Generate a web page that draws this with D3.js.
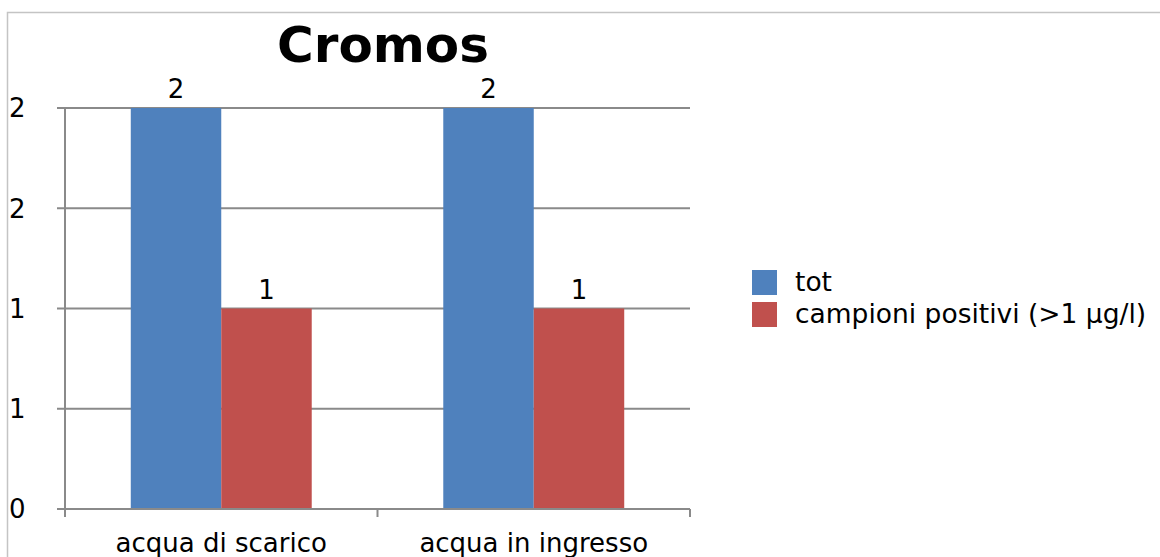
<!DOCTYPE html>
<html><head><meta charset="utf-8">
<script src="https://cdn.jsdelivr.net/npm/d3@7"></script>
<style>body{margin:0;background:#fff}svg{display:block}</style>
</head><body>
<script>
const categories = ["acqua di scarico", "acqua in ingresso"];
const seriesNames = ["tot", "campioni positivi (>1 µg/l)"];
const totValues = [2, 2];
const positiviValues = [1, 1];
const tickValues = [0, 0.5, 1, 1.5, 2];
const tickLabels = ["0", "1", "1", "2", "2"];
const colors = ["#4F81BD", "#C0504D"];

(function () {
const W = 1160, H = 557;
const svg = d3.select("body").append("svg").attr("width", W).attr("height", H);
const font = "DejaVu Sans, Verdana, sans-serif";

svg.append("rect").attr("x", 7.5).attr("y", 12.5).attr("width", W).attr("height", H)
  .attr("fill", "#fff").attr("stroke", "#c4c4c4").attr("stroke-width", 1.5);

const pL = 65, pR = 690, pT = 108, pB = 509;
const x0 = d3.scaleBand().domain(categories).range([pL, pR]).paddingInner(0).paddingOuter(0);
const x1 = d3.scaleBand().domain(seriesNames).range([0, x0.bandwidth()]).paddingInner(0).paddingOuter(0.727);
const y = d3.scaleLinear().domain([0, 2]).range([pB, pT]);

svg.append("g").selectAll("line").data(tickValues).join("line")
  .attr("x1", pL - 8).attr("x2", pR).attr("y1", d => y(d)).attr("y2", d => y(d))
  .attr("stroke", "#8a8a8a").attr("stroke-width", 2);
svg.append("line").attr("x1", pL).attr("x2", pL).attr("y1", pT).attr("y2", pB)
  .attr("stroke", "#8a8a8a").attr("stroke-width", 2);

svg.append("g").selectAll("text").data(tickValues).join("text")
  .attr("x", 9).attr("y", d => y(d)).attr("dy", "0.36em")
  .attr("font-family", font).attr("font-size", 26).attr("fill", "#000")
  .text((d, i) => tickLabels[i]);

const data = categories.map((c, i) => ({cat: c, vals: [totValues[i], positiviValues[i]]}));
const g = svg.append("g").selectAll("g").data(data).join("g")
  .attr("transform", d => `translate(${x0(d.cat)},0)`);
g.selectAll("rect").data(d => d.vals.map((v, j) => ({k: seriesNames[j], v, j}))).join("rect")
  .attr("x", d => x1(d.k)).attr("width", x1.bandwidth())
  .attr("y", d => y(d.v)).attr("height", d => y(0) - y(d.v))
  .attr("fill", d => colors[d.j]);
g.selectAll("text").data(d => d.vals.map((v, j) => ({k: seriesNames[j], v, j}))).join("text")
  .attr("x", d => x1(d.k) + x1.bandwidth() / 2).attr("y", d => y(d.v) - 10)
  .attr("text-anchor", "middle").attr("font-family", font).attr("font-size", 26)
  .text(d => d.v);

const xa = svg.append("g").attr("transform", `translate(0,${pB})`);
xa.append("line").attr("x1", pL).attr("x2", pR).attr("stroke", "#8a8a8a").attr("stroke-width", 2);
const bounds = [pL, ...categories.map(c => x0(c) + x0.bandwidth())];
xa.selectAll("line.t").data(bounds).join("line").attr("class", "t")
  .attr("x1", d => d).attr("x2", d => d).attr("y1", 0).attr("y2", 8)
  .attr("stroke", "#8a8a8a").attr("stroke-width", 2);
xa.selectAll("text").data(categories).join("text")
  .attr("x", d => x0(d) + x0.bandwidth() / 2).attr("y", 43)
  .attr("text-anchor", "middle").attr("font-family", font).attr("font-size", 26)
  .text(d => d);

svg.append("text").attr("x", 383).attr("y", 62).attr("text-anchor", "middle")
  .attr("font-family", font).attr("font-weight", "bold").attr("font-size", 50).text("Cromos");

const lg = svg.append("g").attr("transform", "translate(752,270)");
const li = lg.selectAll("g").data(seriesNames).join("g").attr("transform", (d, i) => `translate(0,${i * 32})`);
li.append("rect").attr("width", 25).attr("height", 25).attr("fill", (d, i) => colors[i]);
li.append("text").attr("x", 43).attr("y", 21)
  .attr("font-family", font).attr("font-size", 26.5).text(d => d);
})();
</script>
</body></html>
